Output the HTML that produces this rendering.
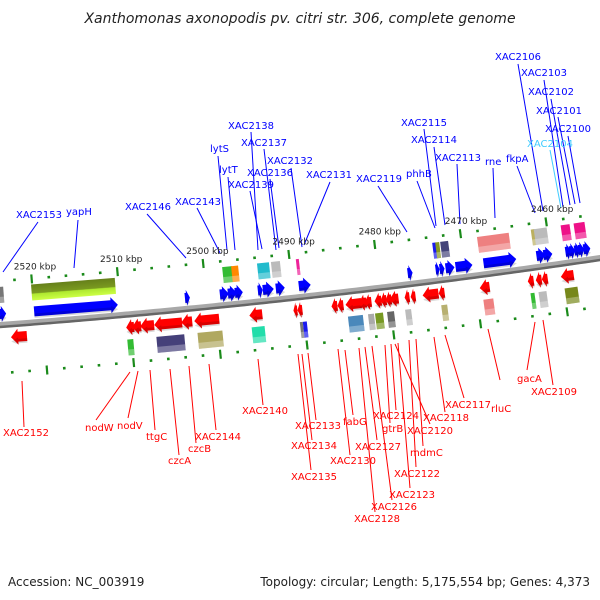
<!DOCTYPE html>
<html><head><meta charset="utf-8">
<style>
html,body{margin:0;padding:0;background:#fff;}
svg{display:block;font-family:"DejaVu Sans","Liberation Sans",sans-serif;}
</style></head>
<body>
<svg id="map" width="600" height="600" viewBox="0 0 600 600" xmlns="http://www.w3.org/2000/svg">
<defs>
<linearGradient id="olive" x1="0" y1="0" x2="0" y2="1"><stop offset="0" stop-color="#66801a"/><stop offset="0.55" stop-color="#7a9a20"/><stop offset="0.6" stop-color="#aee830"/><stop offset="1" stop-color="#ccff44"/></linearGradient>
</defs>
<text x="300" y="23" text-anchor="middle" font-size="14" font-style="italic" fill="#222">Xanthomonas axonopodis pv. citri str. 306, complete genome</text>
<g id="track"></g>
<g id="labels"></g>
<text x="8" y="586" font-size="12" fill="#222">Accession: NC_003919</text>
<text x="590" y="586" text-anchor="end" font-size="12" fill="#222">Topology: circular; Length: 5,175,554 bp; Genes: 4,373</text>
</svg>
<script>
const majorKbp=[2520,2510,2500,2490,2480,2470,2460];
const fwdArrows=[[0,7],[35,119],[186,191],[221,230],[229,238],[236,244],[259,264],[264,275],[277,286],[300,312],[409,414],[437,441],[441,446],[447,456],[457,474],[485,518],[538,547],[545,554],[567,573],[571,577],[576,582],[580,586],[585,592]];
const revArrows=[[10,26],[125,133],[131,140],[139,153],[153,181],[180,191],[193,218],[248,261],[292,296],[296,301],[330,336],[336,342],[344,360],[357,365],[363,370],[373,380],[379,385],[384,390],[388,397],[403,408],[409,414],[421,437],[437,443],[478,488],[526,532],[534,540],[540,546],[559,572]];
const fwdBoxes=[[0,6,"#777"],[34,118,"url(#olive)"],[226,236,"#33bb33"],[235,242,"#ff8800"],[261,273,"#22bbcc"],[275,284,"#bbbbbb"],[300,303,"#ee2299"],[437,441,"#1a1aee"],[440,444,"#889922"],[445,453,"#44447a"],[482,514,"#ee8080"],[536,540,"#bbb060"],[539,552,"#bbbbbb"],[566,575,"#ee1188"],[579,590,"#ee1188"]];
const revBoxes=[[125,131,"#33bb33"],[154,182,"#45407a"],[195,220,"#b0a860"],[249,262,"#22ddaa"],[297,300,"#777"],[300,304,"#1a1aee"],[345,360,"#4a88bb"],[365,371,"#aaaaaa"],[372,380,"#779922"],[384,391,"#666666"],[402,408,"#bbbbbb"],[438,444,"#b8b070"],[480,490,"#ee8080"],[527,531,"#33bb33"],[535,543,"#bbbbbb"],[561,574,"#77881a"]];
const topLabels=[
["XAC2153",16,218,38,222,3,272,"#0000ff"],["yapH",66,215,78,220,74,268,"#0000ff"],["XAC2146",125,210,147,214,186,258,"#0000ff"],
["XAC2143",175,205,197,208,220,253,"#0000ff"],["lytS",210,152,218,156,227,250,"#0000ff"],["lytT",219,173,228,177,235,250,"#0000ff"],
["XAC2138",228,129,251,132,258,250,"#0000ff"],["XAC2137",241,146,264,149,276,250,"#0000ff"],["XAC2136",247,176,270,179,279,248,"#0000ff"],
["XAC2139",228,188,250,191,262,249,"#0000ff"],["XAC2132",267,164,291,168,302,247,"#0000ff"],["XAC2131",306,178,330,182,304,245,"#0000ff"],
["XAC2119",356,182,378,186,407,232,"#0000ff"],["phhB",406,177,417,181,435,228,"#0000ff"],["XAC2115",401,126,424,129,436,226,"#0000ff"],
["XAC2114",411,143,434,147,445,225,"#0000ff"],["XAC2113",435,161,457,164,460,224,"#0000ff"],["rne",485,165,493,168,495,218,"#0000ff"],
["fkpA",506,162,517,166,535,213,"#0000ff"],["XAC2106",495,60,518,64,543,211,"#0000ff"],["XAC2103",521,76,544,80,563,207,"#0000ff"],
["XAC2102",528,95,551,99,570,205,"#0000ff"],["XAC2101",536,114,558,117,575,204,"#0000ff"],["XAC2100",545,132,568,136,580,203,"#0000ff"],
["XAC2104",527,147,550,150,561,208,"#40ccff"]];
const botLabels=[
["XAC2152",3,436,22,381,24,427],["nodW",85,431,130,372,96,420],["nodV",117,429,138,371,128,418],["ttgC",146,440,150,370,155,430],
["czcA",168,464,170,369,179,455],["czcB",188,452,189,366,196,443],["XAC2144",195,440,209,364,216,430],["XAC2140",242,414,258,359,263,405],
["XAC2133",295,429,308,353,316,420],["XAC2134",291,449,302,354,312,440],["XAC2135",291,480,298,354,311,470],["fabG",343,425,345,350,353,415],
["XAC2130",330,464,338,349,350,455],["XAC2127",355,450,365,347,377,440],["XAC2124",373,419,391,344,396,410],["gtrB",382,432,385,345,390,423],
["XAC2126",371,510,372,346,392,500],["XAC2128",354,522,359,348,375,512],["XAC2123",389,498,398,343,410,488],["XAC2122",394,477,409,340,416,467],
["mdmC",410,456,416,339,423,446],["XAC2120",407,434,395,344,430,424],["XAC2118",423,421,434,337,445,412],["XAC2117",445,408,445,335,464,398],
["rluC",491,412,488,329,500,380],["gacA",517,382,535,322,527,370],["XAC2109",531,395,543,320,553,385]];

function yb(x){return 325-0.075*x-6.11e-5*x*x;}
function ang(x){return Math.atan(-0.075-1.222e-4*x)*180/Math.PI;}
function kx(k){return 35+(2520-k)*8.62;}
const NS="http://www.w3.org/2000/svg";
const track=document.getElementById('track');
function mk(tag,attrs,parent){const e=document.createElementNS(NS,tag);for(const k in attrs)e.setAttribute(k,attrs[k]);parent.appendChild(e);return e;}
function local(x){const g=mk('g',{transform:`translate(${x},${yb(x)}) rotate(${ang(x)})`},track);return g;}

let d="";for(let x=-5;x<=605;x+=5){d+=(x===-5?"M":"L")+x+","+yb(x);}
const bb=mk('path',{d:d,stroke:"#a8a8a8",'stroke-width':6,fill:"none"},track);


const bb2=mk('path',{d:d,stroke:"#666",'stroke-width':2.5,fill:"none",transform:"translate(0,2)"},track);



for(let k=2524;k>=2454;k-=2){
  const major=(k%10===0);
  [[0,-44],[8,48]].forEach(([dx,off])=>{
    const x=kx(k)+dx; if(x<0||x>600)return;
    const g=local(x);
    const t=major?mk('rect',{x:-1,y:off-4,width:2.2,height:9,fill:"#1a8a1a"},g):mk('rect',{x:-1.2,y:off-1.2,width:2.6,height:2.6,fill:"#1a8a1a"},g);
    
    
  });
}
majorKbp.forEach(k=>{
  const x=kx(k);
  const t=mk('text',{x:x,y:yb(x)-53,'text-anchor':"middle",'font-size':9,fill:"#222"},document.getElementById('map'));
  t.textContent=k+" kbp";
  
  
});

function arrow(x1,x2,fwd,color){
  const g=local(x1); const w=x2-x1; const h=Math.min(7,w*0.7);
  const top=fwd?-19:5, bot=fwd?-3:21, mid=(top+bot)/2;
  let pts;
  if(fwd) pts=`0,${top+3} ${w-h},${top+3} ${w-h},${top} ${w},${mid} ${w-h},${bot} ${w-h},${bot-3} 0,${bot-3}`;
  else pts=`${w},${top+3} ${h},${top+3} ${h},${top} 0,${mid} ${h},${bot} ${h},${bot-3} ${w},${bot-3}`;
  const p=mk('polygon',{points:pts,fill:color},g);
  mk('polygon',{points:pts,fill:"#000",opacity:0.15,transform:`translate(0,${(bot-top)*0.55}) scale(1,0.45)`,'transform-origin':`0 ${top}`},g);
  return p;
}
fwdArrows.forEach(a=>{const p=arrow(a[0],a[1],true,"#0000ff");
  
  });
revArrows.forEach(a=>{const p=arrow(a[0],a[1],false,"#ff0000");
  
  });
function box(b,fwd){
  const g=local(b[0]); const top=fwd?-38:25;
  const r=mk('rect',{x:0,y:top,width:b[1]-b[0],height:16,fill:b[2]},g);
  if(b[2].indexOf('url')<0) mk('rect',{x:0,y:top+10,width:b[1]-b[0],height:6,fill:"#fff",opacity:0.3},g);
  return r;
}
fwdBoxes.forEach(b=>{const r=box(b,true);
  
  });
revBoxes.forEach(b=>{const r=box(b,false);
  
  });

const lab=document.getElementById('labels');
topLabels.forEach(l=>{
  const ln=mk('line',{x1:l[3],y1:l[4],x2:l[5],y2:l[6],stroke:l[7],'stroke-width':1},lab);
  
  
  const t=mk('text',{x:l[1],y:l[2],'font-size':10,fill:l[7]},lab);t.textContent=l[0];
  
  
});
botLabels.forEach(l=>{
  const ln=mk('line',{x1:l[3],y1:l[4],x2:l[5],y2:l[6],stroke:"#ff0000",'stroke-width':1},lab);
  
  
  const t=mk('text',{x:l[1],y:l[2],'font-size':10,fill:"#ff0000"},lab);t.textContent=l[0];
  
  
});
</script>
</body></html>
